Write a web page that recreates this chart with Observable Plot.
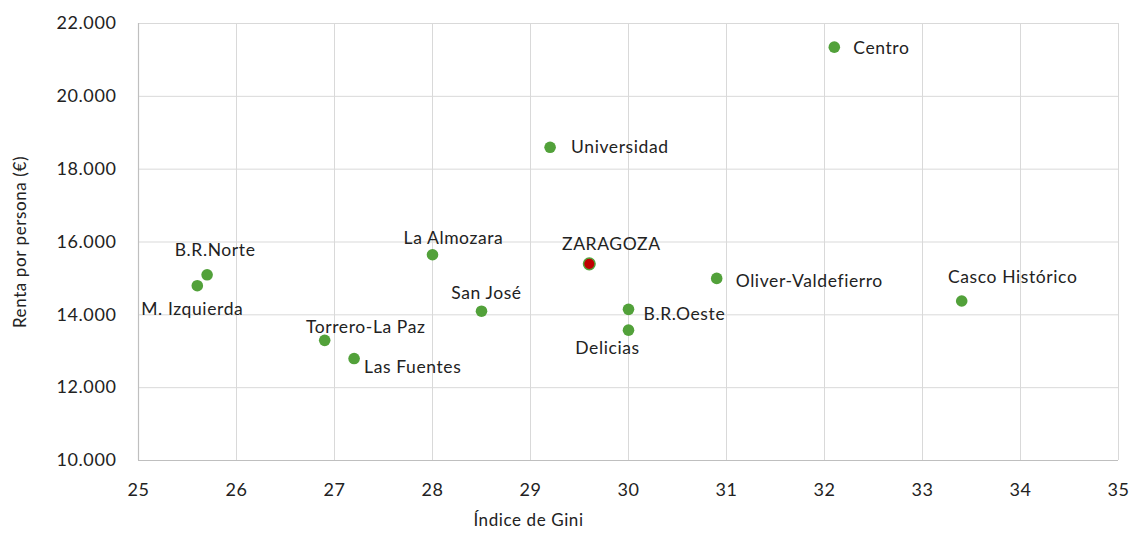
<!DOCTYPE html>
<html>
<head>
<meta charset="utf-8">
<script src="https://cdn.jsdelivr.net/npm/d3@7"></script>
<script src="https://cdn.jsdelivr.net/npm/@observablehq/plot@0.6"></script>
<style>
  html, body { margin: 0; padding: 0; background: #fff; }
  #chart svg { display: block; }
  #chart svg text { letter-spacing: 0.6px; }
</style>
</head>
<body>
<div id="chart"></div>
<script>
// Data
const barrios = ["Centro", "Universidad", "La Almozara", "B.R.Norte", "M. Izquierda", "Torrero-La Paz",
  "Las Fuentes", "San José", "ZARAGOZA", "B.R.Oeste", "Delicias", "Oliver-Valdefierro", "Casco Histórico"];
const gini = [32.1, 29.2, 28.0, 25.7, 25.6, 26.9, 27.2, 28.5, 29.6, 30.0, 30.0, 30.9, 33.4];
const renta = [21350, 18600, 15650, 15100, 14800, 13300, 12800, 14100, 15400, 14150, 13580, 15000, 14380];
const xTicks = [25, 26, 27, 28, 29, 30, 31, 32, 33, 34, 35];
const yTicks = [10000, 12000, 14000, 16000, 18000, 20000, 22000];

// Label placement (style): [textAnchor, dx, dy]
const labelPlacement = [
  ["start", 19, 1], ["start", 21, 0], ["middle", 21, -16], ["middle", 8, -24],
  ["middle", -5, 24], ["middle", 41, -13], ["start", 10, 9], ["middle", 5, -18],
  ["middle", 22, -19], ["start", 15, 5], ["middle", -21, 18], ["start", 19, 3],
  ["middle", 51, -24]
];

const rows = barrios.map((b, i) => ({
  barrio: b, gini: gini[i], renta: renta[i],
  anchor: labelPlacement[i][0], dx: labelPlacement[i][1], dy: labelPlacement[i][2]
}));

const fmt = d => d3.format(",")(d).replace(/,/g, ".");
const green = "#52a13a";
const font = "Lato, 'Open Sans', sans-serif";
const ink = "#222";

const labelMarks = rows.map(r => Plot.text([r], {
  x: "gini", y: "renta", text: "barrio",
  textAnchor: r.anchor, dx: r.dx, dy: r.dy,
  fontSize: 17.5, fill: ink
}));

const chart = Plot.plot({
  width: 1131,
  height: 533,
  marginLeft: 138,
  marginRight: 13,
  marginTop: 23,
  marginBottom: 73,
  style: { fontFamily: font, background: "#fff" },
  x: { domain: [25, 35] },
  y: { domain: [10000, 22000] },
  marks: [
    Plot.gridX(xTicks, { stroke: "#d9d9d9", strokeOpacity: 1, strokeWidth: 1 }),
    Plot.gridY(yTicks, { stroke: "#d9d9d9", strokeOpacity: 1, strokeWidth: 1 }),
    Plot.ruleX([25], { stroke: "#bfbfbf", strokeWidth: 1.2 }),
    Plot.ruleY([10000], { stroke: "#bfbfbf", strokeWidth: 1.2 }),
    Plot.axisX(xTicks, { tickSize: 0, tickPadding: 23, fontSize: 18, fill: ink, label: null }),
    Plot.axisY(yTicks, { tickSize: 0, tickPadding: 22, fontSize: 18, fill: ink, tickFormat: fmt, label: null }),
    Plot.dot(rows, {
      x: "gini", y: "renta", r: 5.8,
      fill: d => d.barrio === "ZARAGOZA" ? "#c00000" : green,
      stroke: green, strokeWidth: d => d.barrio === "ZARAGOZA" ? 1.5 : 0
    }),
    ...labelMarks,
    Plot.text(["Índice de Gini"], { frameAnchor: "bottom", textAnchor: "middle", dx: -100, dy: 65, fontSize: 17, fill: ink }),
    Plot.text(["Renta por persona (€)"], { frameAnchor: "left", textAnchor: "middle", rotate: -90, dx: -118, fontSize: 17, fill: ink })
  ]
});

document.getElementById("chart").appendChild(chart);
</script>
</body>
</html>
